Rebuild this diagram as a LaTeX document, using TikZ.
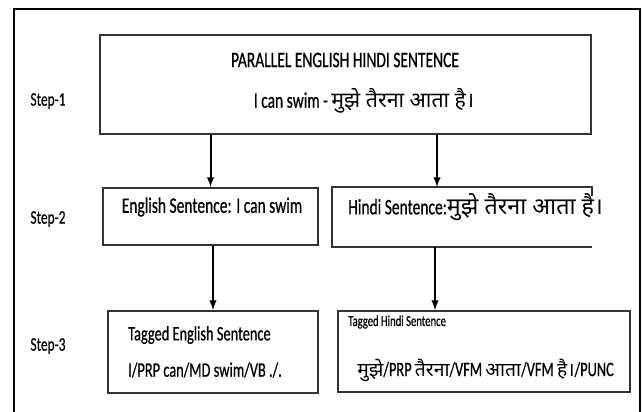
\documentclass[tikz,border=0pt]{standalone}
\usepackage{fontspec}
\setmainfont{Carlito}[FakeStretch=0.7, FakeBold=0.6]
\newfontfamily\hindi[Script=Devanagari]{Noto Sans}
\usetikzlibrary{positioning}

\tikzset{
  stepbox/.style={draw=black!80, line width=1.4pt, inner sep=0pt},
  boxline/.style={draw=black!80, line width=1.4pt},
  flow/.style={-latex, line width=1.5pt},
  txt/.style={inner sep=0pt, font=\fontsize{16.6}{18}\selectfont},
  steplabel/.style={inner sep=0pt, font=\fontsize{14.3}{16}\selectfont}
}

\begin{document}
\begin{tikzpicture}[x=0.75pt,y=-0.75pt]
        \useasboundingbox (0,0) rectangle (642,411);

        % Outer frame
        \draw[line width=1.5pt] (14,9) rectangle (640,425);

        % Boxes
        \node[stepbox, minimum width=368.25pt, minimum height=74.25pt] (top) at (345.5,84.5) {};
        \node[stepbox, minimum width=161.25pt, minimum height=42.75pt] (eng) at (210.5,216.5) {};
        \node[stepbox, draw=none, minimum width=193.5pt, minimum height=43.5pt] (hin) at (462,217) {};
        \node[stepbox, minimum width=157.5pt, minimum height=61.5pt] (tageng) at (213,352) {};
        \node[stepbox, minimum width=219pt, minimum height=60.75pt] (taghin) at (484,351.5) {};

        % Hindi box, right side left open
        \draw[boxline] ([yshift=-6.75pt]hin.north east) -- (hin.north east) -- (hin.north west)
            -- (hin.south west) -- (hin.south east);

        % Step labels
        \node[steplabel] (s1) at (48,101) {Step-1};
        \node[steplabel] (s2) at (48,219) {Step-2};
        \node[steplabel] (s3) at (48,346) {Step-3};

        % Step 1 text
        \node[txt] (par) at (345,60) {PARALLEL ENGLISH HINDI SENTENCE};
        \node[txt] (pair) at (364,101) {I can swim - {\hindi\fontsize{16}{18}\selectfont मुझे तैरना आता है।}};

        % Step 2 text
        \node[txt] (engtxt) at (212,207) {English Sentence: I can swim};
        \node[txt, anchor=west] (hintxt) at (348,207) {Hindi Sentence:{\hindi\fontsize{17.5}{19}\selectfont मुझे तैरना आता है।}};

        % Step 3 text
        \node[txt, anchor=west, font=\fontsize{15.4}{17}\selectfont] (tagE1) at (128,335) {Tagged English Sentence};
        \node[txt, anchor=west, font=\fontsize{15.4}{17}\selectfont] (tagE2) at (128,370) {I/PRP can/MD swim/VB ./.};
        \node[txt, anchor=west, font=\fontsize{11.4}{13}\selectfont] (tagH1) at (348,322) {Tagged Hindi Sentence};
        \node[txt, anchor=west, font=\fontsize{15.4}{17}\selectfont] (tagH2) at (357,370)
            {{\hindi\fontsize{14.5}{16}\selectfont मुझे}/PRP {\hindi\fontsize{14.5}{16}\selectfont तैरना}/VFM
             {\hindi\fontsize{14.5}{16}\selectfont आता}/VFM {\hindi\fontsize{14.5}{16}\selectfont है।}/PUNC};

        % Arrows
        \coordinate (rx1) at (437,0);
        \coordinate (rx2) at (435,0);
        \draw[flow] (top.south -| eng.north) -- (eng.north);
        \draw[flow] (top.south -| rx1) -- (hin.north -| rx1);
        \draw[flow] (eng.south -| tageng.north) -- (tageng.north);
        \draw[flow] (hin.south -| rx2) -- (taghin.north -| rx2);
    \end{tikzpicture}
\end{document}
